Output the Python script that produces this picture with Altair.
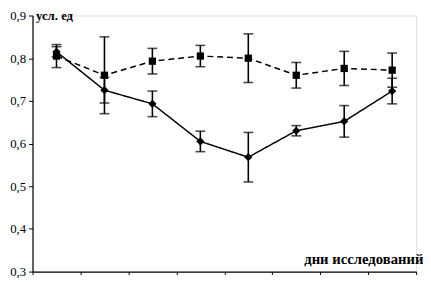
import altair as alt
import pandas as pd

days = [1, 2, 3, 4, 5, 6, 7, 8]
series_names = ["контроль", "опыт"]
control_vals = [0.805, 0.760, 0.793, 0.805, 0.800, 0.760, 0.776, 0.772]
control_err = [0.027, 0.090, 0.030, 0.025, 0.057, 0.030, 0.040, 0.040]
test_vals = [0.815, 0.725, 0.693, 0.605, 0.568, 0.630, 0.652, 0.723]
test_err = [0.012, 0.030, 0.030, 0.024, 0.058, 0.012, 0.037, 0.030]

rows = []
for d, v, e in zip(days, control_vals, control_err):
    rows.append({"day": d, "series": series_names[0], "value": v, "lo": v - e, "hi": v + e})
for d, v, e in zip(days, test_vals, test_err):
    rows.append({"day": d, "series": series_names[1], "value": v, "lo": v - e, "hi": v + e})
df = pd.DataFrame(rows)

FONT = "Liberation Serif"

x_enc = alt.X(
    "day:O",
    scale=alt.Scale(paddingInner=0, paddingOuter=0),
    axis=alt.Axis(
        title="дни исследований",
        titleFont=FONT, titleFontSize=15, titleFontWeight="bold",
        titleAnchor="end", titleAlign="right", titleX=398, titleY=-8,
        titleBaseline="alphabetic",
        labels=False, tickBand="extent", tickSize=3, tickColor="black",
        domainColor="black", domainWidth=1.2, grid=False,
    ),
)
y_scale = alt.Scale(domain=[0.3, 0.9], nice=False, zero=False)
y_axis = alt.Axis(
    title="усл. ед", titleAngle=0, titleFont=FONT, titleFontSize=13,
    titleFontWeight="bold", titleAlign="left", titleBaseline="alphabetic",
    titleX=3, titleY=4,
    values=[0.3, 0.4, 0.5, 0.6, 0.7, 0.8, 0.9],
    labelExpr="replace(format(datum.value, '.1f'), '.', ',')",
    labelFont=FONT, labelFontSize=13, labelColor="black", labelPadding=3,
    tickSize=4, tickColor="black", domainColor="black", domainWidth=1.2, grid=False,
)

base = alt.Chart(df)

lines = base.mark_line(color="black", strokeWidth=1.5).encode(
    x=x_enc,
    y=alt.Y("value:Q", scale=y_scale, axis=y_axis),
    detail="series:N",
    strokeDash=alt.StrokeDash("series:N", scale=alt.Scale(domain=series_names, range=[[6, 4], [1, 0]]), legend=None),
)

rules = base.mark_rule(color="black", strokeWidth=1.6).encode(
    x="day:O", y="lo:Q", y2="hi:Q"
)
caps_lo = base.mark_tick(color="black", size=10, thickness=1.6).encode(x="day:O", y="lo:Q")
caps_hi = base.mark_tick(color="black", size=10, thickness=1.6).encode(x="day:O", y="hi:Q")

points = base.mark_point(filled=True, color="black", opacity=1).encode(
    x="day:O",
    y="value:Q",
    shape=alt.Shape("series:N", scale=alt.Scale(domain=series_names, range=["square", "diamond"]), legend=None),
    size=alt.Size("series:N", scale=alt.Scale(domain=series_names, range=[55, 70]), legend=None),
)

chart = alt.layer(lines, rules, caps_lo, caps_hi, points).properties(
    width=391, height=261,
    autosize=alt.AutoSizeParams(type="none"),
    padding={"left": 25, "top": 5, "right": 7, "bottom": 10},
).configure_view(stroke=None).configure(background="white")

chart.save("out.html", embed_options={"renderer": "svg", "actions": False})
